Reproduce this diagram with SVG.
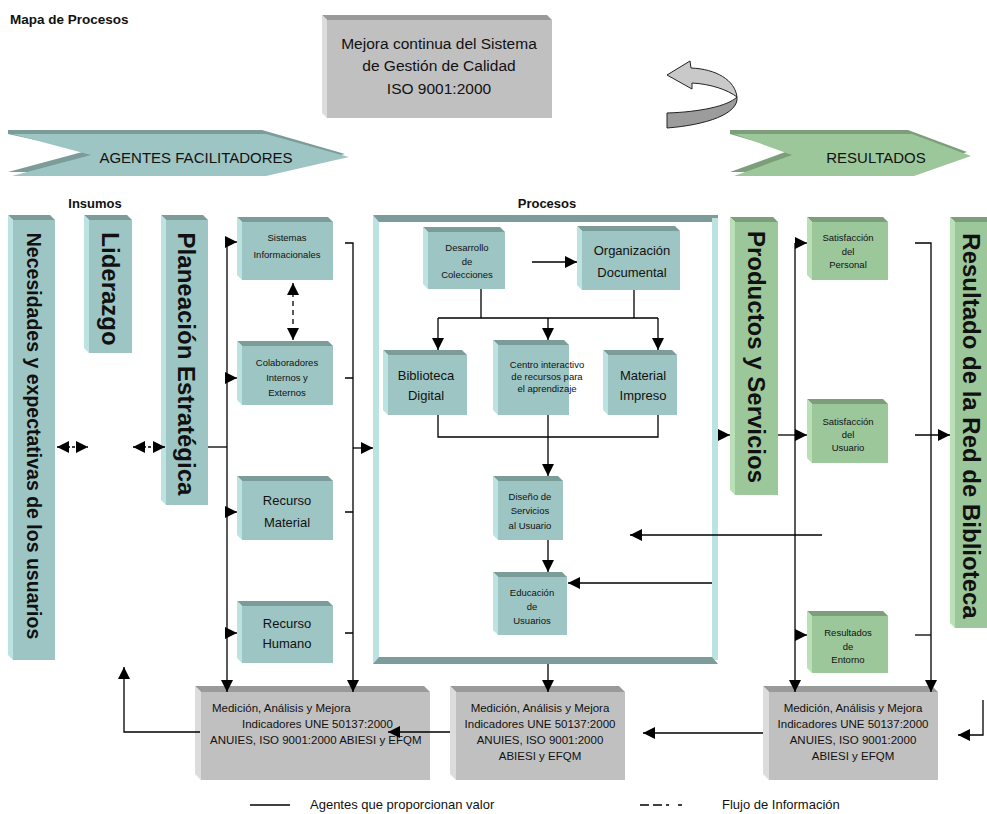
<svg xmlns="http://www.w3.org/2000/svg" width="987" height="814" viewBox="0 0 987 814">
<style>
text{font-family:"Liberation Sans",Arial,sans-serif;fill:#111}
.tf{fill:#9dc5c3}.tt{fill:#7b9c99}.tl{fill:#bce2e1}
.gf{fill:#9cc79a}.gt{fill:#7c9e7a}.gl{fill:#b9e0b6}
.sf{fill:#c0c0c0}.st{fill:#9a9a9a}.sl{fill:#dcdcdc}
.c text,.n text{text-anchor:middle}
.s{font-size:9.5px}.m{font-size:13px}.b{font-size:11.5px}
.v{font-weight:bold;font-size:24px;text-anchor:middle}
.ln{fill:none;stroke:#000;stroke-width:1.3}
.ds{stroke-dasharray:5,4}
</style>
<defs>
<marker id="a" viewBox="0 0 12 12" refX="12" refY="6" markerWidth="12" markerHeight="12" orient="auto-start-reverse" markerUnits="userSpaceOnUse"><path d="M0,0 L12,6 L0,12 Z" fill="#000"/></marker>
</defs>
<rect width="987" height="814" fill="#fff"/>
<text x="10" y="24" font-weight="bold" font-size="13.5">Mapa de Procesos</text>
<text x="95" y="208" font-weight="bold" font-size="13" text-anchor="middle">Insumos</text>
<text x="547" y="208" font-weight="bold" font-size="13" text-anchor="middle">Procesos</text>

<g id="mejora" class="n">
<polygon class="st" points="322,15 547,15 552,20 327,20"/><polygon class="sl" points="322,15 327,20 327,118 322,113"/><rect class="sf" x="327" y="20" width="225" height="98"/>
<text x="439" y="49" font-size="15.5">Mejora continua del Sistema</text>
<text x="439" y="71" font-size="15.5">de Gestión de Calidad</text>
<text x="439" y="94" font-size="15.5">ISO 9001:2000</text>
</g>

<g id="ciclo">
<path d="M667,75 L690,61 L691,68 C716,69 735,80 737,97 C728,90 711,84 692,83 L692,89 Z" fill="#c9c9c9" stroke="#222" stroke-width="1"/>
<path d="M737,97 C739,114 706,125 667,128 L667,113 C700,112 728,106 737,97 Z" fill="#9c9c9c" stroke="#222" stroke-width="1"/>
</g>

<g id="agentes">
<polygon class="tt" points="8,130 262,130 345,154 262,172 8,172 86,151 8,134"/>
<polygon class="tf" points="12,134 266,134 349,157 266,176 12,176 91,155"/>
<text x="196" y="163" font-size="15" text-anchor="middle">AGENTES FACILITADORES</text>
</g>
<g id="resultados">
<polygon class="gt" points="730,130 908,130 967,152 910,172 730,172 788,151 730,134"/>
<polygon class="gf" points="734,134 912,134 971,156 914,176 734,176 792,155"/>
<text x="876" y="163" font-size="15" text-anchor="middle">RESULTADOS</text>
</g>

<g id="necesidades">
<polygon class="tt" points="8,215 50,215 55,220 13,220"/><polygon class="tl" points="8,215 13,220 13,660 8,655"/><rect class="tf" x="13" y="220" width="42" height="440"/>
<text class="v" style="font-size:19.5px" transform="translate(27,436) rotate(90)">Necesidades y expectativas de los usuarios</text>
</g>
<g id="liderazgo">
<polygon class="tt" points="84,215 127,215 132,220 89,220"/><polygon class="tl" points="84,215 89,220 89,353 84,348"/><rect class="tf" x="89" y="220" width="43" height="133"/>
<text class="v" transform="translate(102,289) rotate(90)">Liderazgo</text>
</g>
<g id="planeacion">
<polygon class="tt" points="161,215 203,215 208,220 166,220"/><polygon class="tl" points="161,215 166,220 166,505 161,500"/><rect class="tf" x="166" y="220" width="42" height="285"/>
<text class="v" transform="translate(178,364) rotate(90)">Planeación Estratégica</text>
</g>

<g id="sistemas" class="n">
<polygon class="tt" points="237,217 328,217 333,222 242,222"/><polygon class="tl" points="237,217 242,222 242,280 237,275"/><rect class="tf" x="242" y="222" width="91" height="58"/>
<text class="s" x="287" y="241">Sistemas</text><text class="s" x="287" y="258">Informacionales</text>
</g>
<g id="colaboradores" class="n">
<polygon class="tt" points="237,341 328,341 333,346 242,346"/><polygon class="tl" points="237,341 242,346 242,405 237,400"/><rect class="tf" x="242" y="346" width="91" height="59"/>
<text class="s" x="287" y="366">Colaboradores</text><text class="s" x="287" y="381">Internos y</text><text class="s" x="287" y="396">Externos</text>
</g>
<g id="material" class="n">
<polygon class="tt" points="237,476 328,476 333,481 242,481"/><polygon class="tl" points="237,476 242,481 242,540 237,535"/><rect class="tf" x="242" y="481" width="91" height="59"/>
<text class="m" x="287" y="505">Recurso</text><text class="m" x="287" y="527">Material</text>
</g>
<g id="humano" class="n">
<polygon class="tt" points="237,601 328,601 333,606 242,606"/><polygon class="tl" points="237,601 242,606 242,663 237,658"/><rect class="tf" x="242" y="606" width="91" height="57"/>
<text class="m" x="287" y="628">Recurso</text><text class="m" x="287" y="648">Humano</text>
</g>

<g id="procesos">
<rect class="tl" x="373" y="216" width="6" height="448"/>
<polygon class="tt" points="373,215 718,215 718,222 379,222"/>
<rect class="tl" x="712" y="218" width="6" height="442"/>
<polygon class="tt" points="379,657 712,657 718,664 373,664"/>
</g>

<g id="desarrollo" class="n">
<polygon class="tt" points="423,227 500,227 505,232 428,232"/><polygon class="tl" points="423,227 428,232 428,289 423,284"/><rect class="tf" x="428" y="232" width="77" height="57"/>
<text class="s" x="467" y="251">Desarrollo</text><text class="s" x="467" y="265">de</text><text class="s" x="467" y="278">Colecciones</text>
</g>
<g id="organizacion" class="n">
<polygon class="tt" points="577,226 675,226 680,231 582,231"/><polygon class="tl" points="577,226 582,231 582,290 577,285"/><rect class="tf" x="582" y="231" width="98" height="59"/>
<text class="m" x="632" y="255">Organización</text><text class="m" x="632" y="277">Documental</text>
</g>
<g id="biblioteca" class="n">
<polygon class="tt" points="383,350 462,350 467,355 388,355"/><polygon class="tl" points="383,350 388,355 388,415 383,410"/><rect class="tf" x="388" y="355" width="79" height="60"/>
<text class="m" x="426" y="380">Biblioteca</text><text class="m" x="426" y="400">Digital</text>
</g>
<g id="centro" class="n">
<polygon class="tt" points="493,340 564,340 569,345 498,345"/><polygon class="tl" points="493,340 498,345 498,415 493,410"/><rect class="tf" x="498" y="345" width="71" height="70"/>
<text class="s" x="547" y="368">Centro interactivo</text><text class="s" x="547" y="380">de recursos para</text><text class="s" x="547" y="392">el aprendizaje</text>
</g>
<g id="impreso" class="n">
<polygon class="tt" points="603,350 672,350 677,355 608,355"/><polygon class="tl" points="603,350 608,355 608,415 603,410"/><rect class="tf" x="608" y="355" width="69" height="60"/>
<text class="m" x="643" y="380">Material</text><text class="m" x="643" y="400">Impreso</text>
</g>
<g id="diseno" class="n">
<polygon class="tt" points="493,476 558,476 563,481 498,481"/><polygon class="tl" points="493,476 498,481 498,540 493,535"/><rect class="tf" x="498" y="481" width="65" height="59"/>
<text class="s" x="530" y="500">Diseño de</text><text class="s" x="530" y="514">Servicios</text><text class="s" x="530" y="529">al Usuario</text>
</g>
<g id="educacion" class="n">
<polygon class="tt" points="493,572 562,572 567,577 498,577"/><polygon class="tl" points="493,572 498,577 498,635 493,630"/><rect class="tf" x="498" y="577" width="69" height="58"/>
<text class="s" x="532" y="596">Educación</text><text class="s" x="532" y="610">de</text><text class="s" x="532" y="624">Usuarios</text>
</g>

<g id="productos">
<polygon class="gt" points="730,217 773,217 778,222 735,222"/><polygon class="gl" points="730,217 735,222 735,495 730,490"/><rect class="gf" x="735" y="222" width="43" height="273"/>
<text class="v" transform="translate(748,357) rotate(90)">Productos y Servicios</text>
</g>
<g id="satpersonal" class="n">
<polygon class="gt" points="807,217 883,217 888,222 812,222"/><polygon class="gl" points="807,217 812,222 812,280 807,275"/><rect class="gf" x="812" y="222" width="76" height="58"/>
<text class="s" x="848" y="241">Satisfacción</text><text class="s" x="848" y="255">del</text><text class="s" x="848" y="268">Personal</text>
</g>
<g id="satusuario" class="n">
<polygon class="gt" points="807,399 883,399 888,404 812,404"/><polygon class="gl" points="807,399 812,404 812,463 807,458"/><rect class="gf" x="812" y="404" width="76" height="59"/>
<text class="s" x="848" y="425">Satisfacción</text><text class="s" x="848" y="438">del</text><text class="s" x="848" y="451">Usuario</text>
</g>
<g id="entorno" class="n">
<polygon class="gt" points="807,611 883,611 888,616 812,616"/><polygon class="gl" points="807,611 812,616 812,673 807,668"/><rect class="gf" x="812" y="616" width="76" height="57"/>
<text class="s" x="848" y="636">Resultados</text><text class="s" x="848" y="650">de</text><text class="s" x="848" y="663">Entorno</text>
</g>
<g id="red">
<polygon class="gt" points="950,217 990,217 995,222 955,222"/><polygon class="gl" points="950,217 955,222 955,628 950,623"/><rect class="gf" x="955" y="222" width="40" height="406"/>
<text class="v" transform="translate(963,426) rotate(90)">Resultado de la Red de Biblioteca</text>
</g>

<g id="medicion1">
<polygon class="st" points="195,686 424,686 430,692 201,692"/><polygon class="sl" points="195,686 201,692 201,780 195,774"/><rect class="sf" x="201" y="692" width="229" height="88"/>
<text class="b" x="212" y="712">Medición, Análisis y Mejora</text>
<text class="b" x="242" y="728">Indicadores UNE 50137:2000</text>
<text class="b" x="210" y="744">ANUIES, ISO 9001:2000 ABIESI y EFQM</text>
</g>
<g id="medicion2" class="n">
<polygon class="st" points="450,686 619,686 625,692 456,692"/><polygon class="sl" points="450,686 456,692 456,780 450,774"/><rect class="sf" x="456" y="692" width="169" height="88"/>
<text class="b" x="540" y="712">Medición, Análisis y Mejora</text>
<text class="b" x="540" y="728">Indicadores UNE 50137:2000</text>
<text class="b" x="540" y="744">ANUIES, ISO 9001:2000</text>
<text class="b" x="540" y="760">ABIESI y EFQM</text>
</g>
<g id="medicion3" class="n">
<polygon class="st" points="763,686 932,686 938,692 769,692"/><polygon class="sl" points="763,686 769,692 769,780 763,774"/><rect class="sf" x="769" y="692" width="169" height="88"/>
<text class="b" x="853" y="712">Medición, Análisis y Mejora</text>
<text class="b" x="853" y="728">Indicadores UNE 50137:2000</text>
<text class="b" x="853" y="744">ANUIES, ISO 9001:2000</text>
<text class="b" x="853" y="760">ABIESI y EFQM</text>
</g>

<g id="connectors" class="ln">
<path class="ln" d="M57,447 H88" stroke-dasharray="3,2" marker-start="url(#a)" marker-end="url(#a)"/>
<path class="ln" d="M133,447 H165" stroke-dasharray="3,2" marker-start="url(#a)" marker-end="url(#a)"/>
<path class="ln" d="M208,447 H227"/>
<path class="ln" d="M227,242 V692" marker-end="url(#a)"/>
<path class="ln" d="M227,242 H237" marker-end="url(#a)"/>
<path class="ln" d="M227,378 H237" marker-end="url(#a)"/>
<path class="ln" d="M227,512 H237" marker-end="url(#a)"/>
<path class="ln" d="M227,633 H237" marker-end="url(#a)"/>
<path class="ln ds" d="M293,283 V340" marker-start="url(#a)" marker-end="url(#a)"/>
<path class="ln" d="M345,243 H353 V692" marker-end="url(#a)"/>
<path class="ln" d="M345,378 H353 M345,512 H353 M345,633 H353"/>
<path class="ln" d="M353,448 H373" marker-end="url(#a)"/>
<path class="ln" d="M532,262 H577" marker-end="url(#a)"/>
<path class="ln" d="M481,289 V318 M634,290 V318 M438,318 H658"/>
<path class="ln" d="M438,318 V350" marker-end="url(#a)"/>
<path class="ln" d="M548,318 V340" marker-end="url(#a)"/>
<path class="ln" d="M658,318 V350" marker-end="url(#a)"/>
<path class="ln" d="M438,415 V437 H658 V415"/>
<path class="ln" d="M548,415 V476" marker-end="url(#a)"/>
<path class="ln" d="M548,540 V572" marker-end="url(#a)"/>
<path class="ln" d="M712,583 H568" stroke-width="2.2" marker-end="url(#a)"/>
<path class="ln" d="M822,535 H630" stroke-width="2.5" marker-end="url(#a)"/>
<path class="ln" d="M548,664 V692" marker-end="url(#a)"/>
<path class="ln" d="M718,435 H730" marker-end="url(#a)"/>
<path class="ln" d="M778,435 H807" marker-end="url(#a)"/>
<path class="ln" d="M795,243 V692" marker-end="url(#a)"/>
<path class="ln" d="M795,243 H807" marker-end="url(#a)"/>
<path class="ln" d="M795,635 H807" marker-end="url(#a)"/>
<path class="ln" d="M915,243 H931 V692" marker-end="url(#a)"/>
<path class="ln" d="M915,635 H931"/>
<path class="ln" d="M915,435 H950" marker-end="url(#a)"/>
<path class="ln" d="M983,700 V735 H958" marker-end="url(#a)"/>
<path class="ln" d="M763,733 H643" marker-end="url(#a)"/>
<path class="ln" d="M450,732 H388" marker-end="url(#a)"/>
<path class="ln" d="M200,732 H124 V667" marker-end="url(#a)"/>
</g>

<g id="legend">
<path d="M250,805 H290" stroke="#000" stroke-width="1.5"/>
<text x="310" y="809" font-size="13">Agentes que proporcionan valor</text>
<path d="M640,805 H683" stroke="#000" stroke-width="1.5" stroke-dasharray="9,4,9,4,3"/>
<text x="722" y="809" font-size="13">Flujo de Información</text>
</g>
</svg>
